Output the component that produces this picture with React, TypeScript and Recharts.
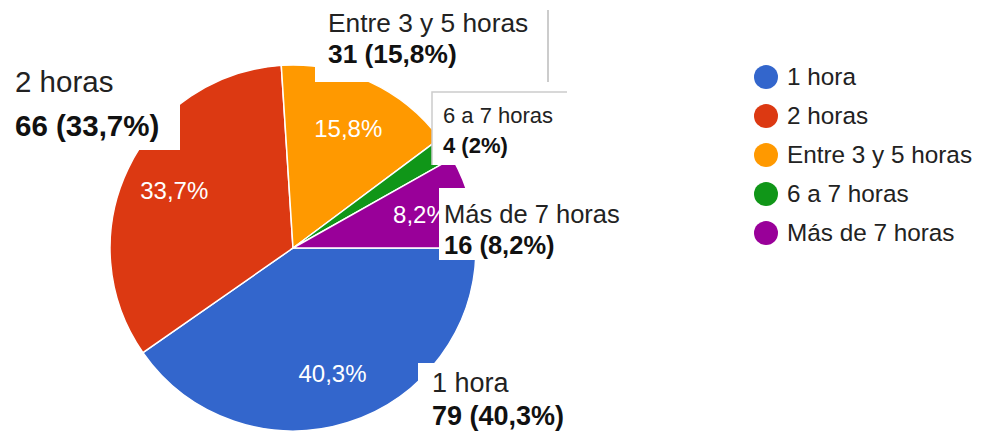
import React from 'react';
import { PieChart, Pie, Cell, Legend } from 'recharts';

const categories = ['1 hora', '2 horas', 'Entre 3 y 5 horas', '6 a 7 horas', 'Más de 7 horas'];
const counts = [79, 66, 31, 4, 16];
const colors = ['#3366cc', '#dc3912', '#ff9900', '#109618', '#990099'];

const total = counts.reduce((a, b) => a + b, 0);
const data = categories.map((name, i) => ({ name, value: counts[i] }));

const FONT = '"Liberation Sans", Arial, sans-serif';
const RADIAN = Math.PI / 180;

// percent with a decimal comma, like the original form summary
const fmtPct = (v: number) => `${Number(((v / total) * 100).toFixed(1))}`.replace('.', ',') + '%';

// white callout boxes (Google Forms style), one per slice
const callouts = [
    { box: [418, 363, 160, 75], x: 432, y1: 392, y2: 425, size: 27, edge: '' },
    { box: [0, 58, 180, 92], x: 15, y1: 92, y2: 136, size: 29.5, edge: '' },
    { box: [315, 0, 233, 82], x: 328, y1: 32, y2: 63, size: 26.3, edge: 'right' },
    { box: [432, 92, 135, 73], x: 443, y1: 123, y2: 153, size: 22, edge: 'topLeft' },
    { box: [439, 188, 190, 72], x: 444, y1: 223, y2: 254, size: 25.5, edge: '' },
];

const renderLabel = (props: any) => {
    const { cx, cy, midAngle, outerRadius, index } = props;
    const r = outerRadius * 0.72;
    const x = cx + r * Math.cos(-midAngle * RADIAN);
    const y = cy + r * Math.sin(-midAngle * RADIAN);
    const c = callouts[index];
    const [bx, by, bw, bh] = c.box;
    const share = counts[index] / total;
    return (
        <g>
            {share > 0.05 && (
                <text x={x} y={y} fill="#fff" fontSize={24} fontFamily={FONT} textAnchor="middle" dominantBaseline="central">
                    {fmtPct(counts[index])}
                </text>
            )}
            <rect x={bx} y={by} width={bw} height={bh} fill="#fff" />
            {c.edge === 'right' && (
                <line x1={bx + bw} y1={by + 10} x2={bx + bw} y2={by + bh} stroke="#cccccc" strokeWidth={2} />
            )}
            {c.edge === 'topLeft' && (
                <polyline points={`${bx},${by + bh} ${bx},${by} ${bx + bw},${by}`} fill="none" stroke="#cccccc" strokeWidth={1.5} />
            )}
            <text x={c.x} y={c.y1} fill="#222" fontSize={c.size} fontFamily={FONT}>
                {categories[index]}
            </text>
            <text x={c.x} y={c.y2} fill="#111" fontSize={c.size} fontWeight="bold" fontFamily={FONT}>
                {`${counts[index]} (${fmtPct(counts[index])})`}
            </text>
        </g>
    );
};

const renderLegend = () => (
    <div style={{ fontFamily: FONT, fontSize: 24.3, color: '#222' }}>
        {categories.map((c, i) => (
            <div key={c} style={{ display: 'flex', alignItems: 'center', height: 38.8, whiteSpace: 'nowrap' }}>
                <span
                    style={{
                        display: 'inline-block',
                        width: 24,
                        height: 24,
                        borderRadius: '50%',
                        background: colors[i],
                        marginRight: 9,
                        flexShrink: 0,
                    }}
                />
                {c}
            </div>
        ))}
    </div>
);

export default function App() {
    return (
        <div style={{ position: 'absolute', left: 0, top: 0, width: 981, height: 433, background: '#fff', overflow: 'hidden' }}>
            <PieChart width={981} height={433} margin={{ top: 0, right: 0, bottom: 0, left: 0 }}>
                <Pie
                    data={data}
                    dataKey="value"
                    nameKey="name"
                    cx={293}
                    cy={248}
                    outerRadius={183}
                    startAngle={0}
                    endAngle={-360}
                    stroke="#fff"
                    strokeWidth={1.5}
                    label={renderLabel}
                    labelLine={false}
                    isAnimationActive={false}
                >
                    {data.map((d, i) => (
                        <Cell key={d.name} fill={colors[i]} />
                    ))}
                </Pie>
                <Legend content={renderLegend} wrapperStyle={{ left: 754, top: 58, width: 227 }} />
            </PieChart>
        </div>
    );
}
